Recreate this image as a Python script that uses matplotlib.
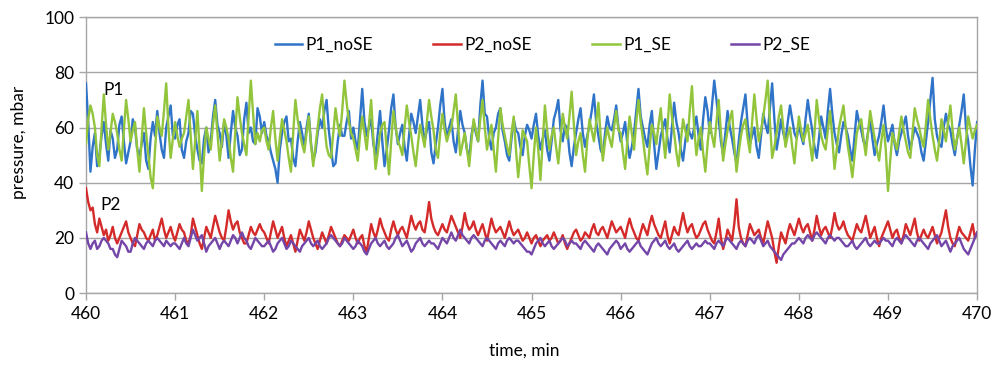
import numpy as np
import matplotlib
matplotlib.use("Agg")
import matplotlib.pyplot as plt

plt.rcParams['font.family'] = ['Lato', 'DejaVu Sans']

# time axis: 460..470 min, one sample every 0.025 min
t_start, t_step = 460.0, 0.025

p1_noSE = [
    76, 62, 44, 53, 58, 46, 50, 57, 62, 54, 48, 59, 56, 49, 52, 61, 64, 55, 47, 51, 55, 63, 60, 52, 50, 54, 58, 48, 45, 56, 62, 57, 66, 58, 52, 49, 60, 64, 68, 57,
    56, 61, 63, 52, 49, 55, 58, 66, 65, 57, 52, 48, 47, 56, 60, 51, 55, 64, 70, 61, 58, 53, 62, 57, 49, 58, 66, 60, 57, 50, 52, 63, 69, 58, 60, 55, 54, 67, 64, 58,
    62, 57, 55, 51, 48, 45, 40, 52, 58, 62, 64, 55, 56, 49, 46, 55, 62, 58, 53, 60, 65, 54, 48, 51, 58, 63, 60, 66, 70, 59, 52, 46, 47, 55, 61, 57, 57, 62, 66, 56,
    60, 55, 52, 63, 74, 62, 57, 60, 63, 54, 50, 58, 66, 55, 46, 52, 59, 67, 72, 60, 54, 58, 61, 53, 48, 57, 65, 62, 58, 64, 70, 61, 55, 59, 62, 51, 47, 54, 60, 68,
    74, 62, 56, 60, 63, 55, 51, 59, 66, 61, 58, 52, 49, 57, 62, 58, 55, 68, 77, 65, 64, 56, 52, 58, 60, 65, 67, 59, 55, 50, 48, 56, 63, 59, 58, 53, 50, 57, 61, 59,
    56, 61, 65, 57, 52, 56, 59, 52, 48, 55, 63, 66, 70, 59, 55, 61, 60, 51, 46, 53, 58, 63, 67, 58, 53, 57, 61, 66, 72, 62, 57, 52, 50, 58, 64, 60, 59, 63, 68, 60,
    55, 58, 62, 54, 49, 53, 58, 66, 74, 64, 60, 56, 53, 61, 66, 54, 45, 51, 57, 60, 63, 56, 51, 60, 69, 62, 58, 52, 48, 55, 61, 58, 56, 60, 64, 57, 52, 63, 71, 66,
    58, 68, 77, 70, 63, 55, 50, 58, 66, 60, 56, 51, 47, 55, 62, 67, 72, 61, 54, 57, 60, 53, 49, 57, 65, 61, 58, 67, 76, 63, 52, 57, 63, 58, 55, 62, 68, 63, 58, 56,
    61, 57, 54, 63, 70, 64, 59, 53, 49, 56, 64, 60, 56, 66, 74, 65, 58, 54, 51, 57, 62, 60, 57, 52, 48, 57, 66, 62, 59, 55, 53, 58, 63, 56, 50, 54, 57, 62, 68, 60,
    55, 58, 61, 54, 50, 55, 58, 61, 64, 57, 52, 56, 60, 58, 56, 51, 48, 55, 62, 70, 78, 63, 57, 54, 53, 60, 65, 61, 59, 54, 50, 56, 61, 66, 72, 60, 55, 46, 39, 52, 62,
]

p2_noSE = [
    38, 33, 30, 31, 25, 22, 27, 24, 21, 23, 19, 21, 24, 20, 18, 20, 22, 24, 26, 22, 20, 18, 17, 21, 25, 23, 22, 20, 19, 21, 23, 19, 21, 24, 27, 23, 20, 22, 24, 21,
    19, 22, 25, 23, 22, 19, 18, 21, 27, 24, 21, 18, 16, 20, 24, 22, 20, 24, 28, 25, 22, 20, 19, 24, 30, 26, 23, 25, 26, 22, 20, 18, 18, 21, 24, 22, 21, 23, 25, 23,
    22, 20, 18, 22, 26, 23, 20, 22, 24, 20, 17, 19, 21, 18, 15, 19, 23, 21, 19, 22, 26, 23, 20, 18, 16, 19, 22, 20, 18, 21, 24, 22, 20, 18, 17, 19, 21, 20, 19, 21,
    23, 20, 18, 20, 21, 17, 15, 20, 25, 22, 20, 23, 27, 24, 22, 20, 19, 23, 26, 23, 21, 23, 24, 22, 20, 24, 28, 25, 23, 25, 26, 23, 22, 27, 33, 27, 24, 22, 21, 23,
    25, 23, 22, 25, 28, 26, 24, 22, 20, 24, 29, 25, 23, 24, 26, 23, 21, 23, 25, 22, 19, 23, 27, 24, 22, 23, 24, 22, 20, 23, 26, 23, 21, 22, 23, 21, 19, 20, 22, 20,
    18, 20, 21, 19, 17, 19, 20, 21, 19, 20, 22, 20, 18, 19, 21, 18, 16, 18, 20, 22, 23, 21, 19, 20, 22, 21, 20, 23, 25, 22, 21, 23, 24, 22, 20, 23, 26, 24, 22, 23,
    24, 22, 20, 24, 27, 24, 22, 20, 19, 22, 25, 23, 21, 25, 28, 25, 23, 21, 20, 23, 26, 21, 18, 21, 24, 22, 21, 25, 29, 25, 22, 24, 25, 22, 20, 21, 23, 25, 26, 23,
    21, 19, 18, 22, 27, 20, 16, 19, 23, 21, 19, 25, 34, 24, 20, 18, 17, 21, 25, 23, 21, 22, 23, 20, 18, 22, 26, 23, 20, 15, 11, 17, 22, 20, 18, 22, 25, 23, 21, 24,
    27, 24, 22, 24, 25, 22, 19, 23, 28, 24, 21, 23, 24, 22, 20, 24, 29, 25, 23, 24, 26, 23, 21, 20, 19, 22, 25, 23, 22, 25, 28, 24, 20, 22, 24, 20, 17, 20, 22, 24,
    26, 23, 20, 22, 23, 20, 18, 21, 25, 23, 21, 24, 27, 22, 19, 21, 23, 21, 20, 22, 24, 21, 18, 20, 22, 26, 30, 24, 20, 18, 17, 21, 24, 22, 21, 20, 19, 22, 25, 20, 22,
]

p1_SE = [
    54, 63, 68, 65, 60, 50, 46, 60, 72, 61, 52, 58, 65, 62, 58, 52, 48, 59, 70, 63, 55, 59, 62, 52, 44, 56, 67, 58, 50, 42, 38, 52, 64, 60, 57, 66, 76, 60, 49, 56,
    62, 57, 53, 56, 58, 64, 70, 57, 45, 55, 66, 52, 37, 50, 60, 56, 52, 61, 68, 58, 48, 55, 63, 60, 56, 49, 44, 58, 71, 64, 58, 54, 50, 64, 77, 65, 54, 58, 55, 59,
    60, 55, 52, 60, 66, 56, 48, 56, 63, 59, 55, 49, 44, 58, 70, 63, 58, 54, 51, 58, 64, 54, 46, 53, 60, 67, 72, 61, 53, 50, 49, 58, 67, 61, 57, 66, 77, 69, 62, 58,
    56, 52, 48, 57, 64, 58, 52, 61, 70, 56, 45, 51, 58, 61, 62, 52, 43, 55, 66, 60, 55, 53, 50, 60, 68, 62, 57, 51, 46, 54, 61, 57, 53, 62, 70, 64, 59, 52, 49, 58,
    65, 59, 55, 58, 60, 66, 72, 61, 50, 54, 58, 52, 46, 55, 63, 59, 55, 63, 70, 60, 52, 57, 61, 52, 44, 56, 67, 61, 57, 53, 50, 58, 64, 52, 42, 50, 59, 57, 55, 46,
    38, 50, 60, 52, 41, 55, 68, 59, 52, 57, 60, 53, 47, 56, 65, 60, 56, 64, 73, 61, 50, 55, 58, 50, 44, 55, 63, 59, 55, 62, 69, 57, 48, 55, 60, 56, 53, 60, 66, 59,
    58, 51, 45, 55, 64, 58, 52, 62, 70, 62, 56, 49, 43, 53, 61, 58, 54, 61, 67, 57, 49, 60, 72, 64, 58, 51, 46, 55, 63, 59, 55, 66, 75, 60, 50, 56, 60, 51, 44, 54,
    62, 57, 53, 62, 70, 58, 48, 54, 59, 63, 66, 54, 44, 51, 57, 61, 63, 56, 51, 62, 72, 63, 55, 59, 64, 70, 77, 62, 49, 53, 58, 64, 68, 60, 53, 57, 60, 53, 47, 56,
    64, 59, 55, 58, 61, 54, 48, 58, 70, 63, 57, 54, 52, 59, 66, 56, 45, 52, 60, 64, 68, 60, 53, 48, 42, 50, 58, 61, 63, 56, 50, 58, 66, 61, 56, 52, 48, 55, 61, 52,
    37, 48, 58, 55, 52, 58, 64, 59, 55, 51, 49, 58, 67, 63, 60, 56, 53, 61, 70, 63, 57, 52, 48, 55, 63, 59, 55, 62, 68, 59, 52, 56, 60, 54, 47, 55, 64, 60, 56, 59, 61,
]

p2_SE = [
    22, 18, 16, 18, 19, 16, 17, 19, 20, 19, 18, 16, 16, 14, 13, 16, 19, 18, 17, 15, 15, 18, 20, 19, 18, 17, 16, 18, 19, 18, 17, 19, 20, 19, 18, 17, 19, 18, 17, 18,
    18, 17, 16, 18, 20, 18, 17, 20, 23, 21, 19, 20, 21, 18, 15, 17, 18, 19, 20, 18, 16, 18, 19, 18, 17, 19, 21, 20, 18, 20, 22, 20, 19, 17, 16, 18, 20, 19, 18, 17,
    17, 18, 19, 17, 15, 16, 18, 19, 20, 18, 16, 17, 19, 18, 17, 16, 15, 17, 18, 19, 20, 18, 17, 18, 19, 17, 16, 17, 18, 20, 21, 20, 19, 18, 17, 18, 20, 19, 18, 17,
    16, 17, 19, 18, 17, 15, 14, 16, 18, 19, 20, 18, 17, 18, 19, 17, 16, 17, 18, 20, 21, 19, 17, 18, 19, 17, 15, 16, 18, 19, 20, 18, 17, 18, 19, 18, 18, 17, 16, 18,
    20, 19, 18, 20, 22, 20, 19, 21, 23, 21, 20, 19, 18, 20, 21, 20, 19, 18, 17, 19, 20, 19, 18, 17, 16, 18, 19, 18, 17, 19, 20, 19, 18, 19, 19, 18, 17, 16, 15, 15,
    14, 16, 18, 19, 20, 18, 17, 18, 19, 17, 16, 17, 18, 19, 20, 19, 17, 18, 19, 18, 18, 17, 16, 18, 19, 18, 17, 16, 15, 17, 18, 17, 16, 15, 14, 16, 17, 18, 19, 18,
    16, 17, 18, 16, 15, 16, 17, 18, 19, 17, 16, 15, 14, 16, 18, 19, 20, 18, 17, 18, 19, 17, 16, 17, 18, 16, 15, 16, 17, 18, 19, 17, 16, 17, 18, 17, 17, 18, 19, 18,
    18, 17, 16, 18, 19, 18, 17, 19, 20, 19, 18, 17, 16, 18, 19, 18, 17, 19, 20, 19, 18, 20, 21, 19, 17, 18, 19, 17, 16, 15, 14, 13, 12, 14, 15, 16, 17, 18, 18, 19,
    20, 19, 18, 20, 21, 20, 19, 21, 22, 21, 20, 19, 18, 20, 21, 20, 19, 20, 20, 19, 18, 17, 17, 18, 19, 17, 16, 17, 18, 19, 20, 18, 17, 18, 19, 18, 18, 19, 20, 19,
    19, 18, 17, 19, 20, 19, 18, 20, 21, 20, 19, 18, 17, 19, 20, 19, 18, 17, 16, 18, 19, 20, 21, 19, 17, 18, 19, 17, 15, 17, 18, 19, 20, 18, 16, 15, 14, 16, 18, 20, 22,
]

series_names = ["P1_noSE", "P2_noSE", "P1_SE", "P2_SE"]
series_colors = ["#2F74C8", "#D42A2A", "#92C53C", "#7446A8"]
x_ticks = list(range(460, 471))
y_ticks = [0, 20, 40, 60, 80, 100]

fig = plt.figure(figsize=(9.93, 3.65), dpi=100)
ax = fig.add_axes([0.0866, 0.197, 0.8974, 0.756])

grid_c = "#A6A6A6"
for name, vals, col in zip(series_names, [p1_noSE, p2_noSE, p1_SE, p2_SE], series_colors):
    t = t_start + t_step * np.arange(len(vals))
    ax.plot(t, vals, color=col, lw=1.7, label=name, zorder=3)

ax.set_xlim(460, 470)
ax.set_ylim(0, 100)
ax.set_xticks(x_ticks)
ax.set_yticks(y_ticks)
ax.yaxis.grid(True, color=grid_c, lw=1.0, zorder=0)
for s in ax.spines.values():
    s.set_color(grid_c)
    s.set_linewidth(1.0)
ax.tick_params(axis='both', colors=grid_c, labelcolor='black', labelsize=12.5,
               length=5, width=1.0, direction='out')
ax.tick_params(axis='x', pad=4)

ax.set_xlabel("time, min", fontsize=12.5)
ax.xaxis.set_label_coords(0.4916, -0.178)
ax.set_ylabel("pressure, mbar", fontsize=12.5)
ax.yaxis.set_label_coords(-0.066, 0.547)

ax.text(460.19, 73.5, "P1", fontsize=12.5, va='center', ha='left')
ax.text(460.16, 32, "P2", fontsize=12.5, va='center', ha='left')

leg = ax.legend(loc='upper center', bbox_to_anchor=(0.512, 0.985), ncol=4,
                frameon=False, fontsize=12.5, handlelength=1.6, handletextpad=0.2,
                columnspacing=3.45)
for h in leg.get_lines():
    h.set_linewidth(1.8)

fig.savefig("out.png", dpi=100)
